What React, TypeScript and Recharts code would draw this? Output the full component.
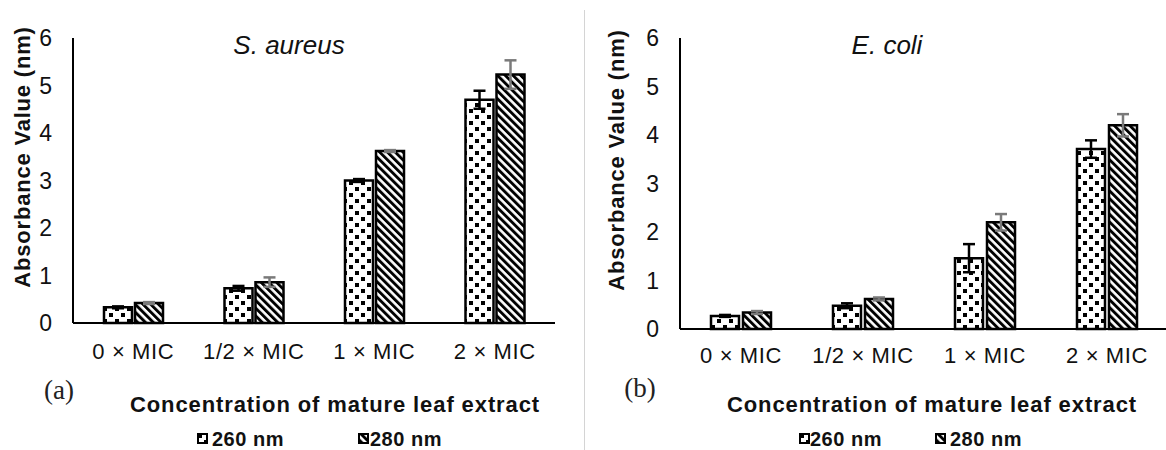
import React from 'react';
import { BarChart, Bar, XAxis, YAxis, ErrorBar } from 'recharts';

// ---------- data ----------
const categories = ['0 × MIC', '1/2 × MIC', '1 × MIC', '2 × MIC'];
const yTicks = [0, 1, 2, 3, 4, 5, 6];
const seriesNames = ['260 nm', '280 nm'];

const aureus260 = [0.33, 0.73, 3.0, 4.7];
const aureus260Err = [0.02, 0.05, 0.03, 0.19];
const aureus280 = [0.42, 0.86, 3.62, 5.23];
const aureus280Err = [0.02, 0.1, 0.02, 0.3];

const coli260 = [0.27, 0.48, 1.46, 3.71];
const coli260Err = [0.02, 0.05, 0.29, 0.18];
const coli280 = [0.34, 0.62, 2.2, 4.2];
const coli280Err = [0.03, 0.03, 0.17, 0.23];

const FONT = '"Liberation Sans", Arial, sans-serif';
const SERIF = '"Liberation Serif", "Times New Roman", serif';

function buildRows(v260: number[], e260: number[], v280: number[], e280: number[]) {
  return categories.map((c, i) => ({ cat: c, v260: v260[i], e260: e260[i], v280: v280[i], e280: e280[i] }));
}

const aureusRows = buildRows(aureus260, aureus260Err, aureus280, aureus280Err);
const coliRows = buildRows(coli260, coli260Err, coli280, coli280Err);

function PatternDefs({ p }: { p: string }) {
  return (
    <defs>
      <pattern id={`${p}-dots`} patternUnits="userSpaceOnUse" width="12" height="12">
        <rect x="0" y="0" width="12" height="12" fill="#fff" />
        <rect x="1" y="1" width="4" height="4" fill="#000" />
        <rect x="7" y="7" width="4" height="4" fill="#000" />
      </pattern>
      <pattern id={`${p}-stripes`} patternUnits="userSpaceOnUse" width="5.5" height="5.5" patternTransform="rotate(-45)">
        <rect x="0" y="0" width="5.5" height="5.5" fill="#fff" />
        <rect x="0" y="0" width="2.9" height="5.5" fill="#000" />
      </pattern>
    </defs>
  );
}

type PanelProps = {
  p: string;
  rows: any[];
  left: number;
  width: number;
  yAxisWidth: number;
  marginRight: number;
  bottom: number;
  barGap: number;
  xTickMargin: number;
};

function Panel({ p, rows, left, width, yAxisWidth, marginRight, bottom, barGap, xTickMargin }: PanelProps) {
  return (
    <div style={{ position: 'absolute', left, top: 0 }}>
      <BarChart
        width={width}
        height={450}
        data={rows}
        margin={{ top: 38, right: marginRight, bottom: 0, left: 0 }}
        barGap={barGap}
        barSize={28}
      >
        <PatternDefs p={p} />
        <XAxis
          dataKey="cat"
          height={bottom}
          interval={0}
          tickLine={false}
          tickSize={0}
          tickMargin={xTickMargin}
          axisLine={{ stroke: '#000', strokeWidth: 2 }}
          tick={{ fill: '#111', fontSize: 22, fontFamily: FONT, letterSpacing: 0.6 }}
        />
        <YAxis
          width={yAxisWidth}
          domain={[0, 6]}
          ticks={yTicks}
          interval={0}
          tickLine={false}
          tickSize={0}
          tickMargin={21}
          axisLine={{ stroke: '#000', strokeWidth: 2 }}
          tick={{ fill: '#111', fontSize: 23, fontFamily: FONT }}
        />
        <Bar dataKey="v260" name={seriesNames[0]} fill={`url(#${p}-dots)`} stroke="#000" strokeWidth={2.5} isAnimationActive={false}>
          <ErrorBar dataKey="e260" width={6} stroke="#000" strokeWidth={2.5} direction="y" isAnimationActive={false} />
        </Bar>
        <Bar dataKey="v280" name={seriesNames[1]} fill={`url(#${p}-stripes)`} stroke="#000" strokeWidth={2.5} isAnimationActive={false}>
          <ErrorBar dataKey="e280" width={6} stroke="#7a7a7a" strokeWidth={2.5} direction="y" isAnimationActive={false} />
        </Bar>
      </BarChart>
    </div>
  );
}

function Txt({ x, y, children, style }: { x: number; y: number; children: React.ReactNode; style?: React.CSSProperties }) {
  return (
    <div
      style={{
        position: 'absolute',
        left: x,
        top: y,
        transform: 'translate(-50%, -50%)',
        whiteSpace: 'nowrap',
        lineHeight: 1,
        fontFamily: FONT,
        color: '#111',
        ...style,
      }}
    >
      {children}
    </div>
  );
}

function LegendItem({ x, textX, p, kind, label }: { x: number; textX: number; p: string; kind: 'dots' | 'stripes'; label: string }) {
  return (
    <>
      <svg style={{ position: 'absolute', left: x, top: 433 }} width={11} height={11}>
        <rect x={1} y={1} width={9} height={9} fill={`url(#${p}-${kind})`} stroke="#000" strokeWidth={2} />
      </svg>
      <div
        style={{
          position: 'absolute',
          left: textX,
          top: 439,
          transform: 'translateY(-50%)',
          lineHeight: 1,
          fontFamily: FONT,
          fontWeight: 'bold',
          fontSize: 20,
          letterSpacing: 0.5,
          color: '#111',
          whiteSpace: 'nowrap',
        }}
      >
        {label}
      </div>
    </>
  );
}

export default function App() {
  return (
    <div style={{ position: 'absolute', left: 0, top: 0, width: 1166, height: 450, overflow: 'hidden', background: '#fff' }}>
      <Panel p="a" rows={aureusRows} left={0} width={580} yAxisWidth={73} marginRight={25} bottom={127} barGap={3} xTickMargin={20} />
      <Panel p="b" rows={coliRows} left={590} width={580} yAxisWidth={90} marginRight={2} bottom={121} barGap={4} xTickMargin={18} />

      <div style={{ position: 'absolute', left: 584, top: 10, width: 1, height: 440, background: '#d4d4d4' }} />

      <Txt x={289} y={45} style={{ fontStyle: 'italic', fontSize: 26 }}>S. aureus</Txt>
      <Txt x={887} y={45} style={{ fontStyle: 'italic', fontSize: 26 }}>E. coli</Txt>

      <Txt x={23} y={157} style={{ transform: 'translate(-50%, -50%) rotate(-90deg)', fontWeight: 'bold', fontSize: 22, letterSpacing: 0.8 }}>
        Absorbance Value (nm)
      </Txt>
      <Txt x={617} y={160} style={{ transform: 'translate(-50%, -50%) rotate(-90deg)', fontWeight: 'bold', fontSize: 22, letterSpacing: 0.8 }}>
        Absorbance Value (nm)
      </Txt>

      <Txt x={335} y={405} style={{ fontWeight: 'bold', fontSize: 22, letterSpacing: 0.9 }}>Concentration of mature leaf extract</Txt>
      <Txt x={932} y={405} style={{ fontWeight: 'bold', fontSize: 22, letterSpacing: 0.9 }}>Concentration of mature leaf extract</Txt>

      <Txt x={59} y={390} style={{ fontFamily: SERIF, fontSize: 27, color: '#222' }}>(a)</Txt>
      <Txt x={640} y={388} style={{ fontFamily: SERIF, fontSize: 27, color: '#222' }}>(b)</Txt>

      <LegendItem x={197} textX={212} p="a" kind="dots" label={seriesNames[0]} />
      <LegendItem x={358} textX={370} p="a" kind="stripes" label={seriesNames[1]} />
      <LegendItem x={799} textX={810} p="b" kind="dots" label={seriesNames[0]} />
      <LegendItem x={935} textX={950} p="b" kind="stripes" label={seriesNames[1]} />
    </div>
  );
}
